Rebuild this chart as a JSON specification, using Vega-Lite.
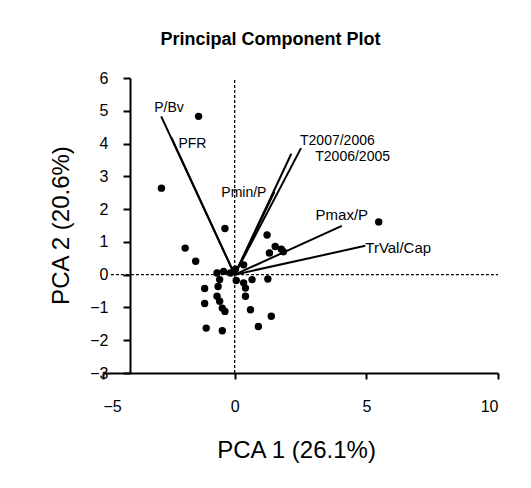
{
  "$schema": "https://vega.github.io/schema/vega-lite/v6.json",
  "width": 395,
  "height": 295,
  "autosize": "none",
  "padding": {"left": 103, "top": 78, "right": 33, "bottom": 115},
  "background": "white",
  "title": {"text": "Principal Component Plot", "fontSize": 18, "fontWeight": "bold", "font": "Liberation Sans", "anchor": "middle", "dx": -30, "offset": 21, "color": "black"},
  "datasets": {
    "scores": [
      {"pc1": -1.37, "pc2": 4.83}, {"pc1": -2.78, "pc2": 2.64}, {"pc1": -0.37, "pc2": 1.41},
      {"pc1": -1.88, "pc2": 0.81}, {"pc1": -1.48, "pc2": 0.41}, {"pc1": 5.47, "pc2": 1.61},
      {"pc1": 1.23, "pc2": 1.21}, {"pc1": 1.54, "pc2": 0.86}, {"pc1": 1.77, "pc2": 0.78},
      {"pc1": 1.32, "pc2": 0.66}, {"pc1": 1.85, "pc2": 0.70}, {"pc1": 0.34, "pc2": 0.30},
      {"pc1": 0.03, "pc2": 0.17}, {"pc1": 1.26, "pc2": -0.13}, {"pc1": 0.66, "pc2": -0.15},
      {"pc1": 0.06, "pc2": -0.18}, {"pc1": 0.34, "pc2": -0.25}, {"pc1": 0.41, "pc2": -0.41},
      {"pc1": 0.41, "pc2": -0.66}, {"pc1": 0.60, "pc2": -1.07}, {"pc1": 1.39, "pc2": -1.27},
      {"pc1": 0.90, "pc2": -1.58}, {"pc1": -1.08, "pc2": -1.63}, {"pc1": -0.47, "pc2": -1.71},
      {"pc1": -1.14, "pc2": -0.42}, {"pc1": -1.14, "pc2": -0.88}, {"pc1": -0.67, "pc2": 0.05},
      {"pc1": -0.42, "pc2": 0.10}, {"pc1": -0.57, "pc2": -0.15}, {"pc1": -0.63, "pc2": -0.36},
      {"pc1": -0.67, "pc2": -0.66}, {"pc1": -0.57, "pc2": -0.81}, {"pc1": -0.47, "pc2": -1.02},
      {"pc1": -0.37, "pc2": -1.12}, {"pc1": -0.16, "pc2": 0.05}
    ],
    "loadings": [
      {"variable": "P/Bv", "start1": 0, "start2": 0, "pc1": -2.79, "pc2": 4.83},
      {"variable": "PFR", "start1": 0, "start2": 0, "pc1": -2.40, "pc2": 4.18},
      {"variable": "Pmin/P", "start1": 0, "start2": 0, "pc1": 1.51, "pc2": 2.53},
      {"variable": "T2007/2006", "start1": 0, "start2": 0, "pc1": 2.52, "pc2": 3.86},
      {"variable": "T2006/2005", "start1": 0, "start2": 0, "pc1": 2.15, "pc2": 3.69},
      {"variable": "Pmax/P", "start1": 0, "start2": 0, "pc1": 4.07, "pc2": 1.49},
      {"variable": "TrVal/Cap", "start1": 0, "start2": 0, "pc1": 4.96, "pc2": 0.88}
    ],
    "crosshair": [
      {"pc1": 0, "pc1_end": 0, "pc2": -3, "pc2_end": 6},
      {"pc1": -4.7, "pc1_end": 10, "pc2": 0, "pc2_end": 0}
    ]
  },
  "layer": [
    {
      "data": {"name": "crosshair"},
      "mark": {"type": "rule", "strokeDash": [3, 2], "strokeWidth": 1.3, "color": "black"},
      "encoding": {
        "x": {"field": "pc1", "type": "quantitative", "scale": {"domain": [-5, 10], "nice": false, "zero": false},
          "axis": {"title": "PCA 1 (26.1%)", "values": [-5, 0, 5, 10], "tickCount": 20, "format": "d", "grid": false, "domainColor": "black", "domainWidth": 2,
            "tickColor": "black", "tickWidth": 2, "tickSize": 6, "labelFontSize": 16, "labelPadding": 19, "labelColor": "black",
            "labelOverlap": false, "labelFont": "Liberation Sans", "titleFont": "Liberation Sans", "titleFontSize": 24, "titleFontWeight": "normal",
            "titleColor": "black", "titleX": 193, "titleY": 77, "titleBaseline": "middle", "titleAlign": "center"}},
        "x2": {"field": "pc1_end"},
        "y": {"field": "pc2", "type": "quantitative", "scale": {"domain": [-3, 6], "nice": false, "zero": false},
          "axis": {"title": "PCA 2 (20.6%)", "values": [-3, -2, -1, 0, 1, 2, 3, 4, 5, 6], "tickCount": 20, "format": "d", "grid": false, "offset": -27,
            "domainColor": "black", "domainWidth": 2, "tickColor": "black", "tickWidth": 2, "tickSize": 7,
            "labelFontSize": 16, "labelPadding": 15, "labelColor": "black", "labelFont": "Liberation Sans", "labelOverlap": false,
            "titleFont": "Liberation Sans", "titleFontSize": 24, "titleFontWeight": "normal", "titleColor": "black",
            "titleX": -69, "titleY": 147, "titleBaseline": "middle", "titleAlign": "center", "titleAngle": -90}},
        "y2": {"field": "pc2_end"}
      }
    },
    {
      "data": {"name": "loadings"},
      "mark": {"type": "rule", "strokeWidth": 2, "color": "black"},
      "encoding": {
        "x": {"field": "start1", "type": "quantitative"},
        "y": {"field": "start2", "type": "quantitative"},
        "x2": {"field": "pc1"},
        "y2": {"field": "pc2"}
      }
    },
    {
      "data": {"name": "scores"},
      "mark": {"type": "circle", "size": 55, "color": "black", "opacity": 1},
      "encoding": {
        "x": {"field": "pc1", "type": "quantitative"},
        "y": {"field": "pc2", "type": "quantitative"}
      }
    },
    {
      "data": {"name": "loadings"},
      "transform": [{"filter": "datum.variable === 'P/Bv'"}],
      "mark": {"type": "text", "align": "left", "baseline": "middle", "dx": -7, "dy": -8, "fontSize": 14, "font": "Liberation Sans", "color": "black"},
      "encoding": {"x": {"field": "pc1", "type": "quantitative"}, "y": {"field": "pc2", "type": "quantitative"}, "text": {"field": "variable"}}
    },
    {
      "data": {"name": "loadings"},
      "transform": [{"filter": "datum.variable === 'PFR'"}],
      "mark": {"type": "text", "align": "left", "baseline": "middle", "dx": 7, "dy": 6, "fontSize": 14, "font": "Liberation Sans", "color": "black"},
      "encoding": {"x": {"field": "pc1", "type": "quantitative"}, "y": {"field": "pc2", "type": "quantitative"}, "text": {"field": "variable"}}
    },
    {
      "data": {"name": "loadings"},
      "transform": [{"filter": "datum.variable === 'Pmin/P'"}],
      "mark": {"type": "text", "align": "right", "baseline": "middle", "dx": -8, "dy": 1, "fontSize": 14, "font": "Liberation Sans", "color": "black"},
      "encoding": {"x": {"field": "pc1", "type": "quantitative"}, "y": {"field": "pc2", "type": "quantitative"}, "text": {"field": "variable"}}
    },
    {
      "data": {"name": "loadings"},
      "transform": [{"filter": "datum.variable === 'T2007/2006'"}],
      "mark": {"type": "text", "align": "left", "baseline": "middle", "dx": -1, "dy": -7, "fontSize": 14, "font": "Liberation Sans", "color": "black"},
      "encoding": {"x": {"field": "pc1", "type": "quantitative"}, "y": {"field": "pc2", "type": "quantitative"}, "text": {"field": "variable"}}
    },
    {
      "data": {"name": "loadings"},
      "transform": [{"filter": "datum.variable === 'T2006/2005'"}],
      "mark": {"type": "text", "align": "left", "baseline": "middle", "dx": 24, "dy": 3, "fontSize": 14, "font": "Liberation Sans", "color": "black"},
      "encoding": {"x": {"field": "pc1", "type": "quantitative"}, "y": {"field": "pc2", "type": "quantitative"}, "text": {"field": "variable"}}
    },
    {
      "data": {"name": "loadings"},
      "transform": [{"filter": "datum.variable === 'Pmax/P'"}],
      "mark": {"type": "text", "align": "center", "baseline": "middle", "dx": 0, "dy": -11, "fontSize": 15, "font": "Liberation Sans", "color": "black"},
      "encoding": {"x": {"field": "pc1", "type": "quantitative"}, "y": {"field": "pc2", "type": "quantitative"}, "text": {"field": "variable"}}
    },
    {
      "data": {"name": "loadings"},
      "transform": [{"filter": "datum.variable === 'TrVal/Cap'"}],
      "mark": {"type": "text", "align": "left", "baseline": "middle", "dx": 0, "dy": 2, "fontSize": 15, "font": "Liberation Sans", "color": "black"},
      "encoding": {"x": {"field": "pc1", "type": "quantitative"}, "y": {"field": "pc2", "type": "quantitative"}, "text": {"field": "variable"}}
    }
  ],
  "config": {"view": {"stroke": null}}
}
